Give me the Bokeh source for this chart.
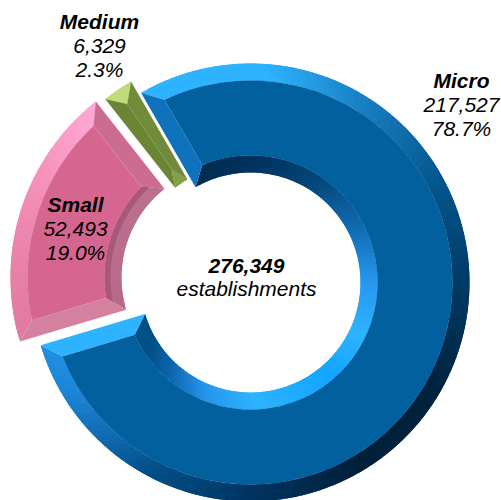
import math
from bokeh.plotting import figure
from bokeh.embed import file_html
from bokeh.resources import INLINE
from bokeh.core.properties import value

categories = ["Micro", "Small", "Medium"]
counts = [217527, 52493, 6329]
shares = ["78.7%", "19.0%", "2.3%"]
count_labels = ["217,527", "52,493", "6,329"]
total_label = "276,349"
total_text = "establishments"

W, H = 501, 500
START = -30.0
total = sum(counts)

STYLE = {
    "Micro": dict(c=(250, 282), R=219, r=110, d=17, flat="#03609f",
                  outer=[(-30, "#2db3ff"), (2, "#2db3ff"), (30, "#1a80c4"), (60, "#05578f"), (90, "#003a66"),
                         (120, "#00223d"), (150, "#00203a"), (180, "#003360"), (210, "#04508a"), (240, "#1b85d5"), (254, "#1f8fe5")],
                  inner=[(-30, "#012c50"), (0, "#003360"), (30, "#04467a"), (60, "#0f6aaf"), (90, "#2698f0"),
                         (115, "#2db3ff"), (140, "#14a5ff"), (180, "#2db3ff"), (205, "#2595ec"), (225, "#0e66ad"), (240, "#025189"), (254, "#024f87")],
                  start="#0e72bd", end="#2db3ff", mid=None),
    "Small": dict(c=(234, 277), R=224, r=113, d=17, flat="#d4668f",
                  outer=[(253, "#e07aa0"), (275, "#ea82aa"), (295, "#f48fb8"), (322, "#ffa8d2")],
                  inner=[(253, "#b86a8a"), (322, "#bc7090")],
                  start="#d4809f", end="#cb6c90", mid="#a85878"),
    "Medium": dict(c=(239, 269), R=217, r=104, d=17, flat="#6d8735",
                   outer=[(321, "#c0dc78"), (331, "#c0dc78")],
                   inner=[(321, "#84a048"), (331, "#84a048")],
                   start="#6b8535", end="#708b39", mid=None),
}


def hex2rgb(h):
    return tuple(int(h[i:i + 2], 16) for i in (1, 3, 5))


def ramp(stops, a):
    if a <= stops[0][0]:
        return stops[0][1]
    for (a0, c0), (a1, c1) in zip(stops, stops[1:]):
        if a <= a1:
            t = (a - a0) / (a1 - a0)
            x, y = hex2rgb(c0), hex2rgb(c1)
            return "#%02x%02x%02x" % tuple(round(x[i] + (y[i] - x[i]) * t) for i in range(3))
    return stops[-1][1]


def pt(c, rad, deg):
    t = math.radians(deg)
    return c[0] + rad * math.sin(t), H - (c[1] - rad * math.cos(t))


def arc(c, rad, a0, a1, n=None):
    n = n or max(2, int(abs(a1 - a0) / 1.5))
    return [pt(c, rad, a0 + (a1 - a0) * i / n) for i in range(n + 1)]


p = figure(width=W, height=H, x_range=(0, W), y_range=(0, H), output_backend="svg",
           toolbar_location=None, min_border=0, outline_line_color=None)
p.axis.visible = False
p.grid.visible = False


def poly(pts, color):
    p.patch([q[0] for q in pts], [q[1] for q in pts], fill_color=color, line_color=None)


angle = START
for cat, cnt in zip(categories, counts):
    s = STYLE[cat]
    sweep = cnt / total * 360
    a0, a1 = angle, angle + sweep
    angle = a1
    c, R, r, d = s["c"], s["R"], s["r"], s["d"]
    Ri, ri = R - d, r + d
    oi = min(math.degrees(math.asin(d / Ri)), sweep / 2)
    ii = min(math.degrees(math.asin(d / ri)), sweep / 2)
    oo0, oo1 = a0 + oi, a1 - oi
    in0, in1 = a0 + ii, a1 - ii
    n = max(2, int(sweep / 2))
    overlap = sweep / n * 0.9
    for i in range(n):
        b0 = a0 + sweep * i / n
        b1 = min(a1, a0 + sweep * (i + 1) / n + overlap)
        f0 = oo0 + (oo1 - oo0) * i / n
        f1 = min(oo1, oo0 + (oo1 - oo0) * (i + 1) / n + overlap)
        poly(arc(c, R, b0, b1, 3) + arc(c, Ri, f1, f0, 3), ramp(s["outer"], b0 + sweep / n / 2))
        f0 = in0 + (in1 - in0) * i / n
        f1 = min(in1, in0 + (in1 - in0) * (i + 1) / n + overlap)
        poly(arc(c, r, b0, b1, 3) + arc(c, ri, f1, f0, 3), ramp(s["inner"], b0 + sweep / n / 2))
    if s["mid"]:
        rm = r + 11
        mi = math.degrees(math.asin(11 / rm))
        poly(arc(c, rm, a0 + mi, a1 - mi) + arc(c, ri, in1, in0), s["mid"])
    poly([pt(c, R, a0), pt(c, Ri, oo0), pt(c, ri, in0), pt(c, r, a0)], s["start"])
    poly([pt(c, R, a1), pt(c, Ri, oo1), pt(c, ri, in1), pt(c, r, a1)], s["end"])
    poly(arc(c, Ri, oo0, oo1) + arc(c, ri, in1, in0), s["flat"])


def label(x, y, t, bold=False, size="21px"):
    p.text([x], [H - y], text=[t], text_align="center", text_baseline="middle",
           text_font=value("Liberation Sans"), text_font_size=size,
           text_font_style="bold italic" if bold else "italic", text_color="#000000")


label(99, 21, categories[2], True)
label(99, 45, count_labels[2])
label(99, 69, shares[2])
label(461, 80, categories[0], True)
label(461, 104, count_labels[0])
label(461, 128, shares[0])
label(75, 204, categories[1], True)
label(75, 228, count_labels[1])
label(75, 252, shares[1])
label(246, 265, total_label, True)
label(246, 288, total_text)

open("out.html", "w").write(file_html(p, INLINE))
